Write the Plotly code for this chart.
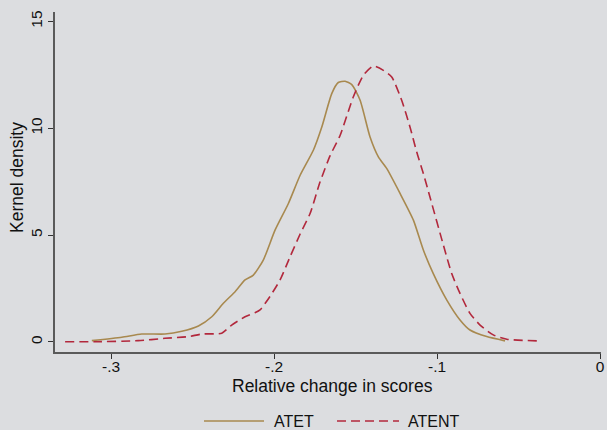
import plotly.graph_objects as go

# ATET kernel density (solid)
atet_x = [-0.3118, -0.2934, -0.2812, -0.2669, -0.2566, -0.2464, -0.2382, -0.2311, -0.2239,
          -0.2178, -0.2127, -0.2066, -0.1994, -0.1912, -0.1840, -0.1759, -0.1707, -0.1646,
          -0.1606, -0.1564, -0.1523, -0.1472, -0.1411, -0.1360, -0.1309, -0.1227, -0.1145,
          -0.1084, -0.1023, -0.0940, -0.0859, -0.0798, -0.0695, -0.0583]
atet_y = [0.06, 0.22, 0.37, 0.37, 0.50, 0.75, 1.18, 1.81, 2.35,
          2.90, 3.13, 3.83, 5.23, 6.48, 7.80, 8.97, 10.06, 11.62,
          12.14, 12.20, 12.04, 11.31, 9.59, 8.66, 8.12, 6.95, 5.70,
          4.30, 3.20, 1.96, 1.03, 0.56, 0.25, 0.05]

# ATENT kernel density (dashed)
atent_x = [-0.3282, -0.3098, -0.2833, -0.2669, -0.2526, -0.2444, -0.2321, -0.2260, -0.2178,
           -0.2117, -0.2086, -0.2025, -0.1963, -0.1902, -0.1840, -0.1779, -0.1718, -0.1656,
           -0.1595, -0.1514, -0.1452, -0.1391, -0.1329, -0.1278, -0.1217, -0.1166, -0.1125,
           -0.1084, -0.1043, -0.0961, -0.0910, -0.0859, -0.0798, -0.0736, -0.0655, -0.0572,
           -0.0388]
atent_y = [0.01, 0.01, 0.06, 0.17, 0.25, 0.37, 0.41, 0.79, 1.18,
           1.37, 1.50, 2.13, 2.90, 3.98, 5.05, 6.01, 7.48, 8.72,
           9.66, 11.46, 12.48, 12.91, 12.71, 12.40, 11.31, 10.06, 8.90,
           7.88, 6.77, 4.53, 3.20, 2.27, 1.34, 0.79, 0.33, 0.13,
           0.05]

x_ticks = [-0.3, -0.2, -0.1, 0]
x_tick_labels = ["-.3", "-.2", "-.1", "0"]
y_ticks = [0, 5, 10, 15]
y_tick_labels = ["0", "5", "10", "15"]
series_names = ["ATET", "ATENT"]
series_colors = ["#a8894f", "#b2283c"]
x_title = "Relative change in scores"
y_title = "Kernel density"

BG = "#dcdde0"
FONT = "Liberation Sans, Arial, sans-serif"
DASH = "9px,5px"

# plot area in pixels: x 55..601, y 12..352
PL, PR, PT, PB = 55, 601, 12, 352
def px_x(p):
    return (p - PL) / (PR - PL)
def px_y(p):
    return (PB - p) / (PB - PT)

fig = go.Figure()
fig.add_trace(go.Scatter(x=atet_x, y=atet_y, mode="lines", name=series_names[0], showlegend=False,
                         line=dict(color=series_colors[0], width=1.6, shape="spline", smoothing=0.6)))
fig.add_trace(go.Scatter(x=atent_x, y=atent_y, mode="lines", name=series_names[1], showlegend=False,
                         line=dict(color=series_colors[1], width=1.6, dash=DASH, shape="spline", smoothing=0.6)))

axis_common = dict(showgrid=False, zeroline=False, showline=True, linecolor="#5a5a5a",
                   linewidth=1.5, ticks="outside", ticklen=5, tickcolor="#333333",
                   tickwidth=1, automargin=False,
                   tickfont=dict(family=FONT, size=15.5, color="#111111"))

fig.update_layout(
    width=607, height=430,
    paper_bgcolor=BG, plot_bgcolor=BG,
    margin=dict(l=PL, r=607 - PR, t=PT, b=430 - PB),
    font=dict(family=FONT, color="#111111"),
    xaxis=dict(range=[-0.3344, 0.0006], tickvals=x_ticks, ticktext=x_tick_labels,
               ticklabelstandoff=-5, **axis_common),
    yaxis=dict(range=[-0.47, 15.44], tickvals=y_ticks, ticktext=y_tick_labels, tickangle=-90,
               **axis_common),
    showlegend=False,
)

# Axis titles
fig.add_annotation(xref="paper", yref="paper", x=px_x(332), y=px_y(386), text=x_title,
                   showarrow=False, xanchor="center", yanchor="middle", font=dict(size=17.5))
fig.add_annotation(xref="paper", yref="paper", x=px_x(17), y=px_y(178), text=y_title,
                   textangle=-90, showarrow=False, xanchor="center", yanchor="middle",
                   font=dict(size=17.5))

# Legend drawn below the plot
leg_y = px_y(421)
fig.add_shape(type="line", xref="paper", yref="paper", x0=px_x(204), x1=px_x(264),
              y0=leg_y, y1=leg_y, line=dict(color=series_colors[0], width=1.6))
fig.add_shape(type="line", xref="paper", yref="paper", x0=px_x(337), x1=px_x(399),
              y0=leg_y, y1=leg_y, line=dict(color=series_colors[1], width=1.6, dash=DASH))
fig.add_annotation(xref="paper", yref="paper", x=px_x(272), y=leg_y, text=series_names[0],
                   showarrow=False, xanchor="left", yanchor="middle", font=dict(size=16))
fig.add_annotation(xref="paper", yref="paper", x=px_x(406), y=leg_y, text=series_names[1],
                   showarrow=False, xanchor="left", yanchor="middle", font=dict(size=16))

fig.write_html("out.html", config={"displayModeBar": False},
               post_script="document.body.style.margin='0';document.body.style.overflow='hidden';")
